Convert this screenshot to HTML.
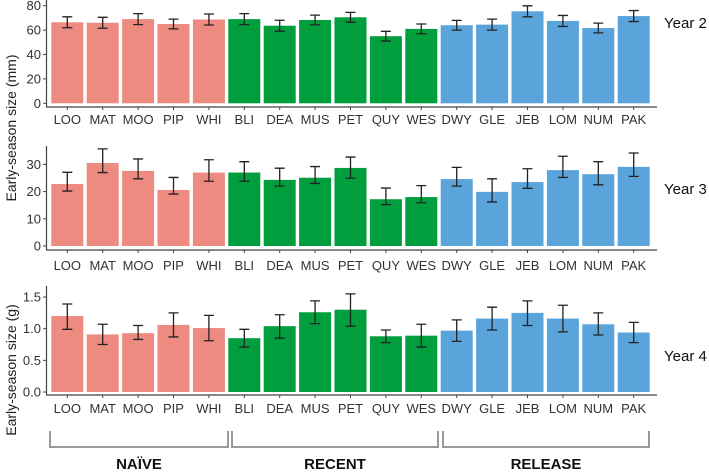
<!DOCTYPE html>
<html><head><meta charset="utf-8">
<style>
html,body{margin:0;padding:0;background:#fff;}
svg{display:block;font-family:"Liberation Sans",sans-serif;}
.tk{font-size:13px;fill:#333;}
.yr{font-size:15px;fill:#111;}
.grp{font-size:15px;font-weight:bold;fill:#111;}
</style></head>
<body>
<svg id="chart" width="709" height="474" viewBox="0 0 709 474" xmlns="http://www.w3.org/2000/svg"></svg>
<script>
const categories = ["LOO","MAT","MOO","PIP","WHI","BLI","DEA","MUS","PET","QUY","WES","DWY","GLE","JEB","LOM","NUM","PAK"];
const groups = ["naive","naive","naive","naive","naive","recent","recent","recent","recent","recent","recent","release","release","release","release","release","release"];
const groupLabels = ["NAÏVE","RECENT","RELEASE"];
const year2Values = [66.4,66,69,65,68.7,69,63.6,68.3,70.5,55,61,64,64.5,75.4,67.5,61.7,71.5];
const year2Err = [4.5,4.5,4.5,4,4.5,4.5,4.5,4,4,4,4,4,4.5,4.5,4.5,4,4.5];
const year3Values = [22.8,30.5,27.6,20.6,27,27,24.3,25.1,28.7,17.2,18,24.6,19.9,23.5,27.9,26.4,29.1];
const year3Hi = [27.1,35.7,32,25.2,31.7,31,28.6,29.2,32.7,21.3,22.2,28.9,24.7,28.4,33,31,34.2];
const year3Lo = [20.2,27,24.7,19.1,23.8,23.8,22,23,24.9,15.2,15.9,22,16.2,21.2,25.2,22.5,25.6];
const year4Values = [1.2,0.91,0.93,1.06,1.01,0.85,1.04,1.26,1.3,0.88,0.89,0.97,1.16,1.25,1.16,1.07,0.94];
const year4Hi = [1.39,1.07,1.05,1.25,1.21,0.99,1.22,1.44,1.55,0.98,1.07,1.14,1.34,1.44,1.37,1.25,1.1];
const year4Lo = [0.99,0.75,0.83,0.87,0.81,0.71,0.85,1.08,1.04,0.78,0.71,0.8,0.98,1.05,0.95,0.9,0.78];
const y2Ticks = [0,20,40,60,80], y2Labels = ["0","20","40","60","80"];
const y3Ticks = [0,10,20,30], y3Labels = ["0","10","20","30"];
const y4Ticks = [0,0.5,1,1.5], y4Labels = ["0.0","0.5","1.0","1.5"];

const svg = document.getElementById('chart');
const NS = "http://www.w3.org/2000/svg";
const colors = {naive:"#EE8B81",recent:"#009E3D",release:"#5BA4DB"};
const X0 = 51.3, BAND = 35.4, BW = 32;
function xBand(i){ return X0 + i*BAND; }
function mk(tag, attrs){ const e=document.createElementNS(NS,tag); for(const k in attrs) e.setAttribute(k,attrs[k]); svg.appendChild(e); return e; }

function panel(name, vals, hi, lo, ticks, tlabels, y0, pxPerUnit, axTop, axY, labY, yearLabel, yearY){
  const ys = v => y0 - v*pxPerUnit;
  const ax = mk('line',{x1:46.5,y1:axTop,x2:46.5,y2:axY,stroke:'#444','stroke-width':1.2});
  
  
  const bx = mk('line',{x1:46,y1:axY,x2:657,y2:axY,stroke:'#444','stroke-width':1.2});
  
  
  ticks.forEach((t,i)=>{
    const y = ys(t);
    mk('line',{x1:43,y1:y,x2:46.5,y2:y,stroke:'#444','stroke-width':1});
    const tx = mk('text',{x:41,y:y+4.5,'text-anchor':'end',class:'tk'});
    tx.textContent = tlabels[i];
    
    
  });
  categories.forEach((c,i)=>{
    const x = xBand(i);
    const r = mk('rect',{x:x,y:ys(vals[i]),width:BW,height:vals[i]*pxPerUnit,fill:colors[groups[i]]});
    
    
    const cx = x+BW/2;
    const eb = mk('path',{d:`M${cx-5},${ys(hi[i])}H${cx+5}M${cx},${ys(hi[i])}V${ys(lo[i])}M${cx-5},${ys(lo[i])}H${cx+5}`,stroke:'#222','stroke-width':1.3,fill:'none'});
    
    
    mk('line',{x1:cx,y1:axY,x2:cx,y2:axY+3,stroke:'#444','stroke-width':1});
    const t = mk('text',{x:cx,y:labY,'text-anchor':'middle',class:'tk'});
    t.textContent = c;
    
    
  });
  const yl = mk('text',{x:664,y:yearY,class:'yr'});
  yl.textContent = yearLabel;
  
  
}
panel('year2', year2Values, year2Values.map((v,i)=>v+year2Err[i]), year2Values.map((v,i)=>v-year2Err[i]), y2Ticks, y2Labels, 103.3, 1.22, 0, 107, 124, 'Year 2', 28);
panel('year3', year3Values, year3Hi, year3Lo, y3Ticks, y3Labels, 246, 2.72, 146, 250, 270, 'Year 3', 194);
panel('year4', year4Values, year4Hi, year4Lo, y4Ticks, y4Labels, 392, 63.3, 286, 395, 413, 'Year 4', 361);

const t1 = mk('text',{x:0,y:0,transform:'translate(16,128) rotate(-90)','text-anchor':'middle',style:'font-size:14px;fill:#222'});
t1.textContent = 'Early-season size  (mm)';


const t2 = mk('text',{x:0,y:0,transform:'translate(16,370) rotate(-90)','text-anchor':'middle',style:'font-size:14px;fill:#222'});
t2.textContent = 'Early-season size (g)';



const brackets = [[50,228],[232,438],[443,649]];
brackets.forEach((b,i)=>{
  const p = mk('path',{d:`M${b[0]},431V447H${b[1]}V431`,stroke:'#999','stroke-width':2,fill:'none'});
  
  
  const t = mk('text',{x:(b[0]+b[1])/2,y:469,'text-anchor':'middle',class:'grp'});
  t.textContent = groupLabels[i];
  
  
});
</script>
</body></html>
